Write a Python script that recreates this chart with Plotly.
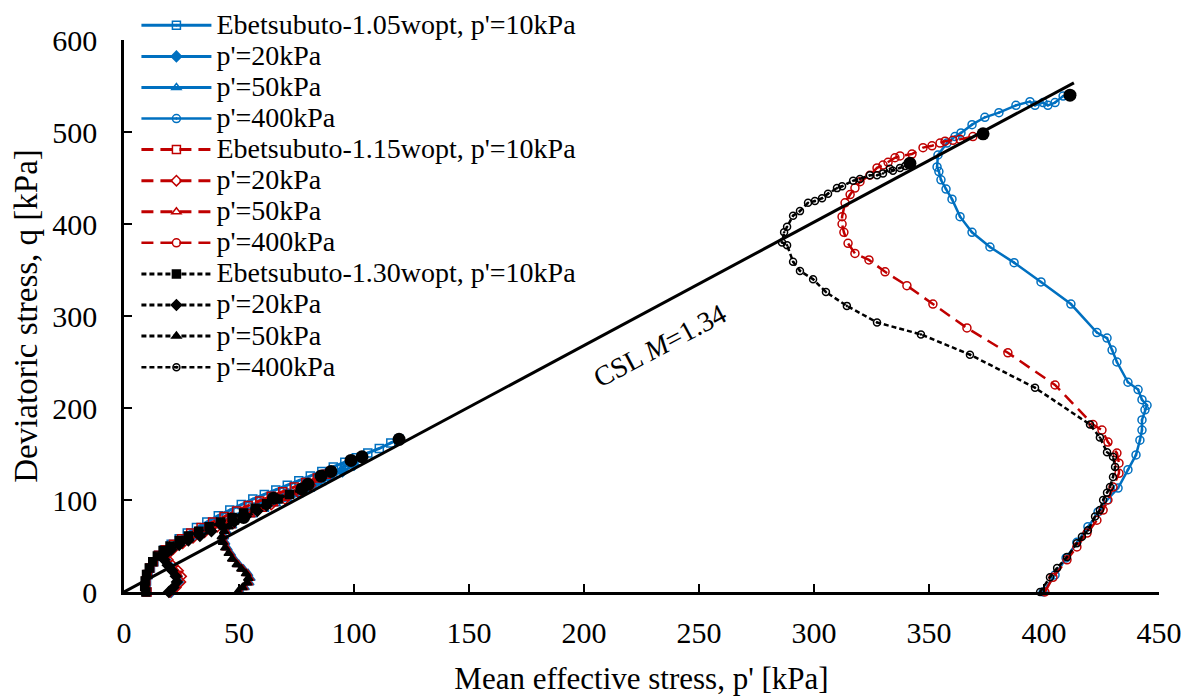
import plotly.graph_objects as go

# ---------------- data (p' [kPa], q [kPa]) ----------------
# Ebetsubuto-1.05wopt (blue)
b10_p = [10, 9.6, 9.8, 10.5, 11.5, 13, 15, 17.5, 20.5, 24, 27.5, 31.5, 36, 41, 46, 51, 56, 61, 66, 71, 76, 81, 86, 91, 96, 101, 106, 111, 116, 119.6]
b10_q = [0, 6, 12, 19, 26, 33, 40, 46, 52, 58, 64, 70, 76, 83, 89, 95, 101, 106, 111, 116, 121, 126, 131, 136, 141, 146, 151, 156, 162, 166]
b20_p = [20.5, 22, 23.5, 23, 21.5, 19.5, 18, 18.5, 21, 25, 30, 35, 41, 47, 53, 59, 65, 71, 77, 83, 89, 95, 100, 103.5]
b20_q = [0, 5, 11, 17, 23, 29, 35, 41, 47, 54, 61, 68, 75, 82, 89, 95, 101, 107, 113, 119, 125, 131, 138, 147]
b50_p = [50.5, 52.5, 54.5, 55, 54, 52, 50, 48, 46.5, 45, 44, 43.5, 44.5, 47, 51, 56, 61, 66, 71, 76, 81, 86, 91, 95, 98.7]
b50_q = [0, 5, 10, 15, 20, 25, 30, 36, 42, 48, 54, 60, 66, 72, 78, 84, 90, 96, 101, 106, 112, 119, 127, 135, 143]
b400_p = [399.6, 404.8, 409.6, 414.3, 419.1, 423.5, 427.4, 432.2, 436.5, 440, 441.7, 442.6, 442.6, 443.9, 444.8, 442.6, 440.9, 436.5, 431.7, 429.6, 427.4, 423, 411.7, 398.7, 387, 376.5, 368.7, 363.5, 360, 357.4, 355.2, 354.3, 353.5, 353.9, 357.8, 361.3, 363.9, 368.7, 374.3, 380.4, 387.8, 393.9, 396.1, 399.6, 401.7, 404.8, 408.3, 411.3]
b400_q = [0, 18.5, 37, 54, 71, 87, 100, 113, 133, 149, 165, 176, 187, 198, 203, 209, 220, 228, 250, 263, 276, 282, 313, 337, 358, 375, 391, 408, 427, 438, 448, 457, 462, 475, 488, 495, 499, 508, 516, 521, 529, 533, 529, 532, 529, 532, 539, 540]

# Ebetsubuto-1.15wopt (red)
r10_p = [10, 9.3, 9.5, 10.2, 11.2, 12.8, 15, 18, 21.5, 25, 29, 33.5, 38.5, 43.5, 49, 54, 59, 64, 69, 74, 79, 84, 88, 90]
r10_q = [0, 6, 12, 19, 26, 33, 40, 46, 52, 58, 64, 70, 76, 82, 88, 94, 99, 104, 109, 114, 119, 124, 128, 131]
r20_p = [20, 22.5, 24.5, 24.8, 23.5, 21, 19, 19, 21.5, 25.5, 30, 35, 40.5, 46, 52, 58, 64, 70, 76, 81, 85.7]
r20_q = [0, 5, 11, 17, 23, 29, 35, 41, 47, 53, 59, 65, 71, 77, 83, 89, 95, 101, 108, 116, 126]
r50_p = [50, 52, 54, 54.5, 53.5, 51.5, 49.5, 47.5, 46, 44.5, 43.5, 43, 44, 46.5, 50.5, 55, 60, 65, 70, 75, 80]
r50_q = [0, 5, 10, 15, 20, 25, 30, 36, 42, 48, 54, 60, 66, 72, 78, 84, 90, 96, 102, 109, 117]
r400_p = [400.4, 403.9, 410, 414.3, 418.7, 423, 425.7, 427.8, 430, 432.6, 432.6, 431.7, 427.8, 425.2, 421.3, 404.8, 384.3, 366.5, 351.7, 340.4, 330.9, 323.9, 317.8, 314.8, 313, 312.2, 312.2, 313.5, 315.7, 317.8, 320, 324.3, 327.4, 330, 332.2, 335.2, 337.4, 342.6, 347.4, 351.3, 354.8, 357, 360.4, 363.5, 369.1, 373.5]
r400_q = [0, 16, 35, 49, 64, 78, 89, 100, 114, 129, 140, 151, 163, 176, 182, 225, 260, 287, 313, 333, 348, 361, 368, 379, 391, 400, 408, 423, 432, 439, 446, 453, 461, 464, 467, 472, 474, 476, 483, 485, 488, 490, 491, 492, 495, 498]

# Ebetsubuto-1.30wopt (black)
k10_p = [9.5, 9, 9.2, 9.8, 11, 12.5, 14.5, 17, 20, 24, 28, 32.5, 37, 42, 47, 52, 57, 62, 67, 72, 77.4]
k10_q = [0, 6, 12, 19, 26, 33, 39, 45, 50, 56, 61, 66, 71, 76, 81, 86, 91, 96, 101, 106, 112]
k20_p = [19.5, 21.5, 23, 22.5, 21, 19, 17.5, 18, 20.5, 24, 28, 33, 38, 43, 48, 53, 58, 62, 65]
k20_q = [0, 5, 11, 17, 23, 29, 35, 41, 46, 51, 56, 61, 66, 71, 76, 82, 88, 94, 102]
k50_p = [49.5, 51.5, 53.5, 54, 53, 51, 49, 47, 45.5, 44, 43, 42.5, 43.5, 45.5, 48, 52]
k50_q = [0, 5, 10, 15, 20, 25, 30, 36, 42, 48, 54, 60, 66, 71, 76, 81]
k400_p = [398.3, 402.6, 405.7, 410, 414.3, 416.5, 419.1, 422.2, 424.3, 425.7, 427.4, 428.7, 430, 430.9, 430, 427.4, 424.3, 420, 396.1, 367.8, 346.5, 327.4, 314.3, 305.2, 299.6, 293.9, 290.9, 288.3, 286.1, 287, 288.3, 290.9, 293.9, 297.4, 300.4, 303.5, 306.1, 310, 312.2, 317, 320, 324.3, 327.4, 330, 333, 334.3, 337.4, 339.6, 341.7]
k400_q = [0, 16, 26, 38, 53, 60, 67, 82, 89, 100, 108, 114, 125, 136, 147, 152, 168, 182, 222, 258, 280, 293, 311, 326, 340, 349, 359, 377, 380, 391, 397, 409, 414, 423, 425, 428, 433, 439, 441, 447, 449, 453, 453, 455, 460, 458, 461, 463, 466]

# end points (failure) of each test
end_p = [119.6, 103.5, 98.7, 90, 85.7, 80, 77.4, 65, 52, 411.3, 373.5, 341.7]
end_q = [166, 147, 143, 131, 126, 117, 112, 102, 81, 540, 498, 466]

# critical state line
csl_M = 1.34
csl_p = [0, 413]

legend_names = ["Ebetsubuto-1.05wopt, p'=10kPa", "p'=20kPa", "p'=50kPa", "p'=400kPa",
                "Ebetsubuto-1.15wopt, p'=10kPa", "p'=20kPa", "p'=50kPa", "p'=400kPa",
                "Ebetsubuto-1.30wopt, p'=10kPa", "p'=20kPa", "p'=50kPa", "p'=400kPa"]

# ---------------- figure ----------------
FONT = "Liberation Serif, Times New Roman, serif"
BLUE = "#0070C0"
RED = "#C00000"
BLACK = "#000000"
RED_DASH = "12px,7px"
BLK_DASH = "5px,3px"

series = [
    (b10_p, b10_q, BLUE, "solid", "square-open-dot", 8),
    (b20_p, b20_q, BLUE, "solid", "diamond", 8),
    (b50_p, b50_q, BLUE, "solid", "triangle-up-open", 8),
    (b400_p, b400_q, BLUE, "solid", "circle-open-dot", 8),
    (r10_p, r10_q, RED, RED_DASH, "square-open", 8),
    (r20_p, r20_q, RED, RED_DASH, "diamond-open", 8),
    (r50_p, r50_q, RED, RED_DASH, "triangle-up-open", 8),
    (r400_p, r400_q, RED, RED_DASH, "circle-open", 8),
    (k10_p, k10_q, BLACK, BLK_DASH, "square", 8),
    (k20_p, k20_q, BLACK, BLK_DASH, "diamond", 8),
    (k50_p, k50_q, BLACK, BLK_DASH, "triangle-up", 8),
    (k400_p, k400_q, BLACK, BLK_DASH, "circle-open-dot", 7),
]

fig = go.Figure()
for i, ((px, qy, col, dash, sym, ms), name) in enumerate(zip(series, legend_names)):
    low = (i % 4) != 3
    fig.add_trace(go.Scatter(
        x=px, y=qy, mode="lines+markers",
        name='<span style="font-size:28px">' + name + '</span>',
        line=dict(color=col, width=3 if low else 2.5, dash=dash),
        marker=dict(symbol=sym, size=ms, color=col, line=dict(color=col, width=1.5)),
        cliponaxis=False,
    ))

fig.add_trace(go.Scatter(
    x=csl_p, y=[csl_M * v for v in csl_p], mode="lines", showlegend=False,
    line=dict(color="black", width=3), cliponaxis=False,
))
fig.add_trace(go.Scatter(
    x=end_p, y=end_q, mode="markers", showlegend=False,
    marker=dict(symbol="circle", size=13, color="black"), cliponaxis=False,
))

fig.add_annotation(x=233, y=268, text="CSL <i>M</i>=1.34", showarrow=False,
                   textangle=-28, font=dict(family=FONT, size=28, color="black"))

axis_common = dict(showline=True, linecolor="black", linewidth=2.5, ticks="inside",
                   ticklen=8, tickwidth=2, tickcolor="black", showgrid=False, zeroline=False,
                   tickfont=dict(family=FONT, size=30, color="black"))

# the page body adds an 8px offset; the figure is sized so the plot lands where the reference's is
fig.update_layout(
    width=1184, height=691,
    margin=dict(l=116, r=33, t=32, b=107, autoexpand=False),
    paper_bgcolor="white", plot_bgcolor="white",
    font=dict(family=FONT, color="black"),
    xaxis=dict(range=[0, 450], dtick=50, ticklabelstandoff=12,
               title=dict(text="Mean effective stress, p' [kPa]", font=dict(family=FONT, size=31), standoff=20),
               **axis_common),
    yaxis=dict(range=[0, 600], dtick=100, ticklabelstandoff=18,
               title=dict(text="Deviatoric stress, q [kPa]", font=dict(family=FONT, size=33), standoff=10),
               **axis_common),
    legend=dict(x=0.012, y=0.370, xanchor="left", yanchor="bottom", bgcolor="rgba(0,0,0,0)",
                font=dict(family=FONT, size=21.6, color="black"), tracegroupgap=0,
                itemwidth=70),
    showlegend=True,
)

fig.write_html("out.html")
